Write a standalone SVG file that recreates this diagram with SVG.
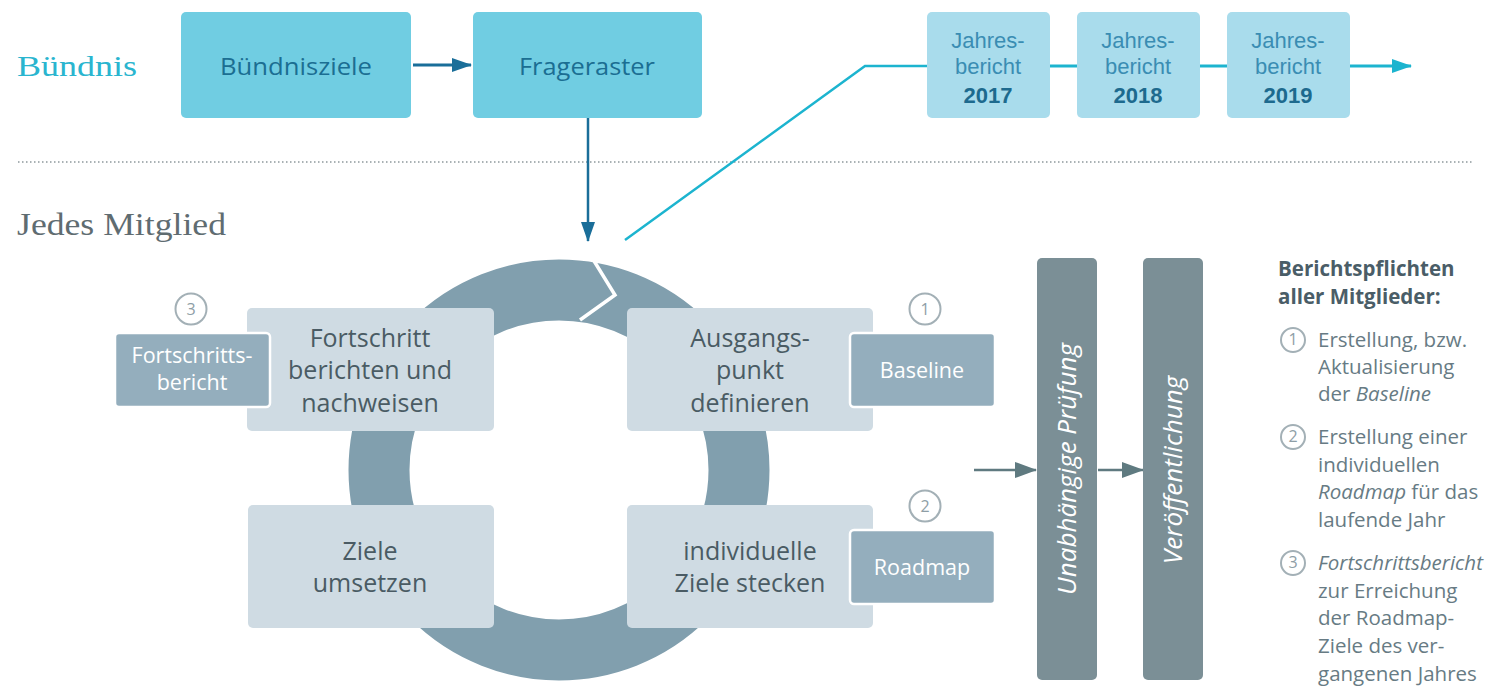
<svg xmlns="http://www.w3.org/2000/svg" width="1486" height="687" viewBox="0 0 1486 687">
<defs>
<style>
.serif{font-family:"Liberation Serif","DejaVu Serif",serif}
.sans{font-family:"Open Sans","Noto Sans","Liberation Sans",sans-serif}
.narrow{font-family:"Liberation Sans",Arial,sans-serif}
.bbox{fill:#70cde2}
.jbox{fill:#a9dcec}
.lbox{fill:#cfdbe3}
.sbox{fill:#94aebd;stroke:#fff;stroke-width:2.5}
.bar{fill:#7b8f96}
.btxt{fill:#1b6e92;font-size:24px;text-anchor:middle}
.jtxt{fill:#3a8db3;font-size:22px;text-anchor:middle}
.jyear{fill:#1d6a8e;font-size:22px;font-weight:bold;text-anchor:middle}
.ltxt{fill:#4a5b64;font-size:25px;text-anchor:middle}
.stxt{fill:#ffffff;font-size:21.5px;text-anchor:middle}
.vtxt{fill:#ffffff;font-size:26px;font-style:italic;text-anchor:middle}
.num{fill:none;stroke:#a3b0b6;stroke-width:2}
.numt{fill:#8e9ea6;font-size:16px;text-anchor:middle}
.rtxt{fill:#677b84;font-size:20.5px}
.rhead{fill:#4a5d67;font-size:20.5px;font-weight:bold}
</style>
<marker id="ad" markerWidth="20" markerHeight="16" refX="19" refY="8" orient="auto" markerUnits="userSpaceOnUse"><path d="M0,1 L20,8 L0,15 z" fill="#1a6e99"/></marker>
<marker id="al" markerWidth="20" markerHeight="16" refX="19" refY="8" orient="auto" markerUnits="userSpaceOnUse"><path d="M0,1 L20,8 L0,15 z" fill="#1cb4cf"/></marker>
<marker id="ag" markerWidth="22" markerHeight="18" refX="21" refY="9" orient="auto" markerUnits="userSpaceOnUse"><path d="M0,1 L22,9 L0,17 z" fill="#5f7a80"/></marker>
</defs>
<rect width="1486" height="687" fill="#ffffff"/>

<text class="serif" x="17" y="76" font-size="30" fill="#2ab5cf" textLength="120" lengthAdjust="spacingAndGlyphs">Bündnis</text>
<text class="serif" x="17" y="235" font-size="32" fill="#5f6c71" textLength="209" lengthAdjust="spacingAndGlyphs">Jedes Mitglied</text>
<line x1="18" y1="162" x2="1472" y2="162" stroke="#a9b1b4" stroke-width="2" stroke-dasharray="1.5 2.5"/>

<g id="ring">
<circle cx="559" cy="470" r="180" fill="none" stroke="#819fae" stroke-width="61"/>
<polyline points="591,256 615,295 580,320" fill="none" stroke="#ffffff" stroke-width="3.5"/>
</g>

<g id="connectors">
<line x1="413" y1="65" x2="471" y2="65" stroke="#1a6e99" stroke-width="3" marker-end="url(#ad)"/>
<line x1="588" y1="118" x2="588" y2="241" stroke="#1a6e99" stroke-width="2.5" marker-end="url(#ad)"/>
<polyline points="625,240 865,66 927,66" fill="none" stroke="#1cb4cf" stroke-width="2.5"/>
<line x1="1050" y1="66" x2="1077" y2="66" stroke="#1cb4cf" stroke-width="3"/>
<line x1="1200" y1="66" x2="1227" y2="66" stroke="#1cb4cf" stroke-width="3"/>
<line x1="1350" y1="66" x2="1411" y2="66" stroke="#1cb4cf" stroke-width="3" marker-end="url(#al)"/>
<line x1="974" y1="470" x2="1036" y2="470" stroke="#5f7a80" stroke-width="2.5" marker-end="url(#ag)"/>
<line x1="1098" y1="470" x2="1143" y2="470" stroke="#5f7a80" stroke-width="2.5" marker-end="url(#ag)"/>
</g>

<g id="buendnisziele"><rect class="bbox" x="181" y="12" width="230" height="106" rx="5"/><text class="sans btxt" x="296" y="75" textLength="152" lengthAdjust="spacingAndGlyphs">Bündnisziele</text></g>
<g id="frageraster"><rect class="bbox" x="473" y="12" width="229" height="106" rx="5"/><text class="sans btxt" x="587" y="75" textLength="136" lengthAdjust="spacingAndGlyphs">Frageraster</text></g>

<g id="jb2017"><rect class="jbox" x="927" y="12" width="123" height="106" rx="5"/><text class="narrow jtxt" x="988" y="48">Jahres-</text><text class="narrow jtxt" x="988" y="74">bericht</text><text class="narrow jyear" x="988" y="103">2017</text></g>
<g id="jb2018"><rect class="jbox" x="1077" y="12" width="123" height="106" rx="5"/><text class="narrow jtxt" x="1138" y="48">Jahres-</text><text class="narrow jtxt" x="1138" y="74">bericht</text><text class="narrow jyear" x="1138" y="103">2018</text></g>
<g id="jb2019"><rect class="jbox" x="1227" y="12" width="123" height="106" rx="5"/><text class="narrow jtxt" x="1288" y="48">Jahres-</text><text class="narrow jtxt" x="1288" y="74">bericht</text><text class="narrow jyear" x="1288" y="103">2019</text></g>

<g id="fortschritt"><rect class="lbox" x="247" y="308" width="247" height="123" rx="5"/><text class="sans ltxt" x="370" y="347">Fortschritt</text><text class="sans ltxt" x="370" y="379">berichten und</text><text class="sans ltxt" x="370" y="412">nachweisen</text></g>
<g id="fortschrittsbericht"><rect class="sbox" x="115" y="333" width="155" height="74" rx="4"/><text class="sans stxt" x="192" y="363">Fortschritts-</text><text class="sans stxt" x="192" y="390">bericht</text>
<circle class="num" cx="191" cy="309" r="15.5"/><text class="sans numt" x="191" y="315">3</text></g>

<g id="ausgangspunkt"><rect class="lbox" x="627" y="308" width="246" height="123" rx="5"/><text class="sans ltxt" x="750" y="347">Ausgangs-</text><text class="sans ltxt" x="750" y="379">punkt</text><text class="sans ltxt" x="750" y="412">definieren</text></g>
<g id="baseline"><rect class="sbox" x="850" y="333" width="145" height="74" rx="4"/><text class="sans stxt" x="922" y="378">Baseline</text>
<circle class="num" cx="925" cy="309" r="15.5"/><text class="sans numt" x="925" y="315">1</text></g>

<g id="umsetzen"><rect class="lbox" x="248" y="505" width="246" height="123" rx="5"/><text class="sans ltxt" x="370" y="560">Ziele</text><text class="sans ltxt" x="370" y="592">umsetzen</text></g>
<g id="stecken"><rect class="lbox" x="627" y="505" width="246" height="123" rx="5"/><text class="sans ltxt" x="750" y="560">individuelle</text><text class="sans ltxt" x="750" y="592">Ziele stecken</text></g>
<g id="roadmap"><rect class="sbox" x="850" y="530" width="145" height="74" rx="4"/><text class="sans stxt" x="922" y="575">Roadmap</text>
<circle class="num" cx="925" cy="506" r="15.5"/><text class="sans numt" x="925" y="512">2</text></g>

<g id="pruefung"><rect class="bar" x="1037" y="258" width="60" height="422" rx="5"/><text class="sans vtxt" transform="translate(1076,469) rotate(-90)">Unabhängige Prüfung</text></g>
<g id="veroeffentlichung"><rect class="bar" x="1143" y="258" width="60" height="422" rx="5"/><text class="sans vtxt" transform="translate(1182,470) rotate(-90)">Veröffentlichung</text></g>

<g id="legende">
<text class="sans rhead" x="1278" y="276">Berichtspflichten</text>
<text class="sans rhead" x="1278" y="304">aller Mitglieder:</text>
<circle class="num" cx="1293" cy="340" r="12"/><text class="sans numt" x="1293" y="345" font-size="14">1</text>
<text class="sans rtxt" x="1318" y="347">Erstellung, bzw.</text>
<text class="sans rtxt" x="1318" y="374">Aktualisierung</text>
<text class="sans rtxt" x="1318" y="401">der <tspan font-style="italic">Baseline</tspan></text>
<circle class="num" cx="1293" cy="437" r="12"/><text class="sans numt" x="1293" y="442" font-size="14">2</text>
<text class="sans rtxt" x="1318" y="444">Erstellung einer</text>
<text class="sans rtxt" x="1318" y="472">individuellen</text>
<text class="sans rtxt" x="1318" y="499"><tspan font-style="italic">Roadmap</tspan> für das</text>
<text class="sans rtxt" x="1318" y="527">laufende Jahr</text>
<circle class="num" cx="1293" cy="563" r="12"/><text class="sans numt" x="1293" y="568" font-size="14">3</text>
<text class="sans rtxt" x="1318" y="570" font-style="italic">Fortschrittsbericht</text>
<text class="sans rtxt" x="1318" y="598">zur Erreichung</text>
<text class="sans rtxt" x="1318" y="625">der Roadmap-</text>
<text class="sans rtxt" x="1318" y="653">Ziele des ver-</text>
<text class="sans rtxt" x="1318" y="681">gangenen Jahres</text>
</g>
</svg>
